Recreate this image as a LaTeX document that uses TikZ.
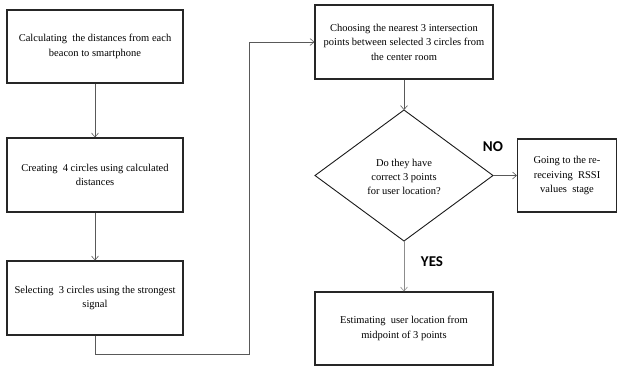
\documentclass[tikz,border=0pt]{standalone}
\usepackage{fontspec}
\setmainfont{Liberation Serif}
\newfontfamily\txtfont{Liberation Serif}
\newfontfamily\lblfont{Carlito}
\usetikzlibrary{arrows.meta}
\begin{document}
\begin{tikzpicture}[x=1pt,y=-1pt,
  boxstyle/.style={draw=black!85,line width=1.1pt,align=center,font=\txtfont\fontsize{10.5}{14.5}\selectfont,inner sep=0pt},
  conn/.style={draw=black!65,line width=0.6pt,-{Straight Barb[length=4pt,width=7pt,line width=0.6pt]}},
  lbl/.style={font=\lblfont\bfseries\fontsize{15}{17}\selectfont}]
\useasboundingbox (0,0) rectangle (618,367);
\node[boxstyle,minimum width=176pt,minimum height=73pt] (b1) at (95,46.5) {Calculating\ \ the distances from each\\beacon to smartphone};
\node[boxstyle,minimum width=176pt,minimum height=74pt] (b2) at (95,175) {Creating\ \ 4 circles using calculated\\distances};
\node[boxstyle,minimum width=176pt,minimum height=74pt] (b3) at (95,298) {Selecting\ \ 3 circles using the strongest\\signal};
\node[boxstyle,minimum width=178pt,minimum height=74pt] (b4) at (404,42) {Choosing the nearest 3 intersection\\points between selected 3 circles from\\the center room};
\draw[draw=black!90,line width=0.9pt] (404,110) coordinate (dt) -- (493,175.5) coordinate (dr) -- (404,241) coordinate (db) -- (315,175.5) coordinate (dl) -- cycle;
\node[align=center,font=\txtfont\fontsize{10.5}{14}\selectfont] (dtext) at (404,176.5) {Do they have\\correct 3 points\\for user location?};
\node[boxstyle,minimum width=99pt,minimum height=73pt] (b6) at (567,175.5) {Going to the re-\\receiving\ \ RSSI\\values\ \ stage};
\node[boxstyle,minimum width=178pt,minimum height=73pt] (b5) at (404,328.5) {Estimating\ \ user location from\\midpoint of 3 points};
\node[lbl] (no) at (493,147) {NO};
\node[lbl] (yes) at (432,262) {YES};
\coordinate (c1) at (95,354);
\coordinate (c2) at (249,354);
\coordinate (c3) at (249,42);
\draw[conn] (b1) -- (b2);
\draw[conn] (b2) -- (b3);
\draw[conn] (b3.south) -- (c1) -- (c2) -- (c3) -- (b4.west);
\draw[conn] (b4.south) -- (dt);
\draw[conn] (dr) -- (b6.west);
\draw[conn,draw=black!45] (db) -- (b5.north);
\end{tikzpicture}
\end{document}
